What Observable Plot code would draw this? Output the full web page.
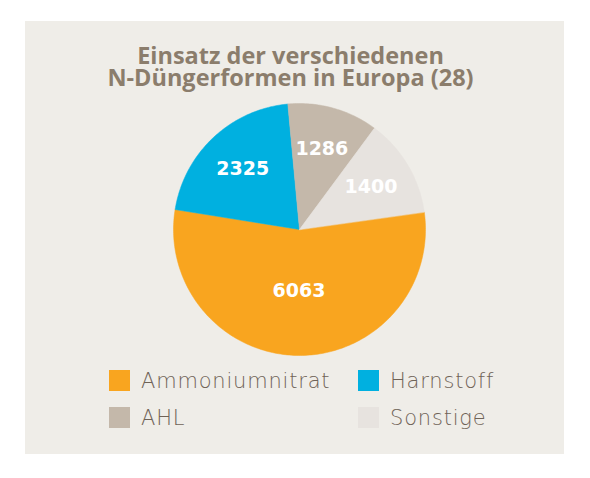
<!DOCTYPE html>
<html>
<head>
<meta charset="utf-8">
<script src="https://cdn.jsdelivr.net/npm/d3@7"></script>
<script src="https://cdn.jsdelivr.net/npm/@observablehq/plot@0.6"></script>
<style>
  body { margin: 0; background: #fff; }
  #panel { position: absolute; left: 25px; top: 21px; width: 539px; height: 433px; background: #efede8; }
  #title { position: absolute; left: -4px; width: 539px; top: 23px; text-align: center;
           font: bold 23.5px/22px "Open Sans", sans-serif; color: #8b7d6c; }
  #chart { position: absolute; left: 0; top: 80px; }
  #legend { position: absolute; left: 84px; top: 341px; display: grid;
            grid-template-columns: 249px 200px; grid-auto-rows: 37px;
            font: 200 21px "DejaVu Sans", sans-serif; letter-spacing: 0.8px; color: #6f6357; }
  .item { display: flex; align-items: center; }
  .sw { width: 21px; height: 21px; margin-right: 11px; }
</style>
</head>
<body>
<div id="panel">
  <div id="title">Einsatz der verschiedenen<br>N-Düngerformen in Europa (28)</div>
  <div id="chart"></div>
  <div id="legend"></div>
</div>
<script>
/* Daten */
const categories = ["Ammoniumnitrat", "Harnstoff", "AHL", "Sonstige"]
const values = [6063, 2325, 1286, 1400]
const colors = ["#f9a51f", "#00b0e0", "#c4b8aa", "#e7e3df"]

// Anfang des ersten Stücks, im Uhrzeigersinn ab 12 Uhr
const startDeg = 82

const total = d3.sum(values)
const arcs = d3.pie().sort(null)
  .startAngle(startDeg * Math.PI / 180)
  .endAngle(startDeg * Math.PI / 180 + 2 * Math.PI)(values)

/* Polygone der Stücke im Einheitskreis */
let slices = []
arcs.forEach((a, i) => {
  const name = categories[i]
  slices.push({name, x: 0, y: 0})
  const n = Math.ceil((a.endAngle - a.startAngle) / (Math.PI / 180))
  for (let k = 0; k <= n; k++) {
    const t = a.startAngle + (a.endAngle - a.startAngle) * k / n
    slices.push({name, x: Math.sin(t), y: Math.cos(t)})
  }
})

/* Beschriftungen */
const labels = arcs.map((a, i) => {
  const mid = (a.startAngle + a.endAngle) / 2
  const r = values[i] / total > 0.5 ? 0.49 : 0.66
  return {text: String(values[i]), x: r * Math.sin(mid), y: r * Math.cos(mid)}
})

const chart = Plot.plot({
  width: 539,
  height: 260,
  margin: 0,
  style: {background: "transparent"},
  x: {domain: [-1, 1], range: [148, 400], axis: null},
  y: {domain: [-1, 1], range: [254, 2], axis: null},
  color: {domain: categories, range: colors},
  marks: [
    Plot.line(slices, {
      x: "x", y: "y", z: "name",
      fill: "name", stroke: "name", strokeWidth: 0.5,
      curve: "linear-closed"
    }),
    Plot.text(labels, {
      x: "x", y: "y", text: "text",
      fill: "white", fontSize: 19, fontWeight: "bold",
      fontFamily: "DejaVu Sans"
    })
  ]
})

d3.select('#chart').append(() => chart)

/* Legende */
const legend = d3.select('#legend')
categories.forEach((c, i) => {
  const item = legend.append('div').attr('class', 'item')
  item.append('div').attr('class', 'sw').style('background', colors[i])
  item.append('span').text(c)
})
</script>
</body>
</html>
